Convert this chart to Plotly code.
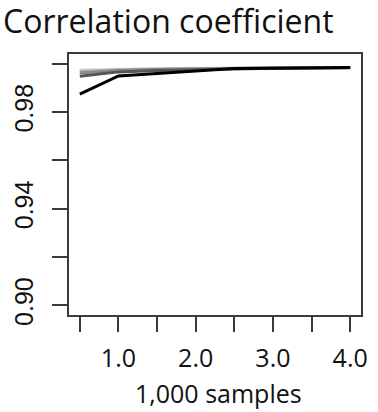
import plotly.graph_objects as go

# Sample size in thousands
samples_k = [0.5, 1.0, 1.5, 2.0, 2.5, 3.0, 3.5, 4.0]

# Correlation coefficient per series
series_names = ["light", "mid-light", "mid", "dark", "black"]
series_values = [
    [0.9974, 0.9977, 0.9979, 0.9981, 0.9982, 0.9983, 0.9984, 0.9984],
    [0.9968, 0.9975, 0.9978, 0.9980, 0.9981, 0.9982, 0.9983, 0.9984],
    [0.9961, 0.9972, 0.9976, 0.9979, 0.9980, 0.9982, 0.9983, 0.9984],
    [0.9948, 0.9966, 0.9972, 0.9976, 0.9979, 0.9981, 0.9982, 0.9983],
    [0.9874, 0.9949, 0.9959, 0.9971, 0.9980, 0.9981, 0.9982, 0.9984],
]
series_colors = ["#d8d8d8", "#b0b0b0", "#8a8a8a", "#555555", "#000000"]

x_ticks = [0.5, 1.0, 1.5, 2.0, 2.5, 3.0, 3.5, 4.0]
x_tick_text = ["", "1.0", "", "2.0", "", "3.0", "", "4.0"]
y_ticks = [0.90, 0.92, 0.94, 0.96, 0.98, 1.00]
y_tick_text = ["0.90", "", "0.94", "", "0.98", ""]

fig = go.Figure()
for name, vals, col in zip(series_names, series_values, series_colors):
    fig.add_trace(go.Scatter(
        x=samples_k, y=vals, mode="lines", name=name,
        line=dict(color=col, width=3), showlegend=False,
    ))

axis_col = "#3a3a3a"
fig.update_layout(
    width=378, height=412,
    margin=dict(l=69, r=10, t=54, b=97),
    paper_bgcolor="white", plot_bgcolor="white",
    xaxis=dict(
        range=[0.36, 4.14], tickvals=x_ticks, ticktext=x_tick_text,
        ticks="outside", ticklen=15, tickwidth=2, tickcolor=axis_col,
        showline=True, linecolor=axis_col, linewidth=2, mirror=True,
        showgrid=False, zeroline=False,
        tickfont=dict(family="Open Sans", size=25, color="#111111"),
        ticklabelstandoff=5,
    ),
    yaxis=dict(
        range=[0.896, 1.004], tickvals=y_ticks, ticktext=y_tick_text,
        ticks="outside", ticklen=15, tickwidth=2, tickcolor=axis_col,
        showline=True, linecolor=axis_col, linewidth=2, mirror=True,
        showgrid=False, zeroline=False, tickangle=-90,
        tickfont=dict(family="Liberation Sans", size=25, color="#111111"),
        ticklabelstandoff=9,
    ),
    annotations=[
        dict(text="Correlation coefficient", xref="paper", yref="paper",
             x=0, y=1, xanchor="left", yanchor="bottom",
             xshift=-68, yshift=10, showarrow=False,
             font=dict(family="Open Sans", size=32, color="#111111")),
        dict(text="1,000 samples", xref="paper", yref="paper",
             x=0.5, y=0, xanchor="center", yanchor="top",
             xshift=3, yshift=-59, showarrow=False,
             font=dict(family="Open Sans", size=25, color="#111111")),
    ],
)

fig.write_html("out.html")
